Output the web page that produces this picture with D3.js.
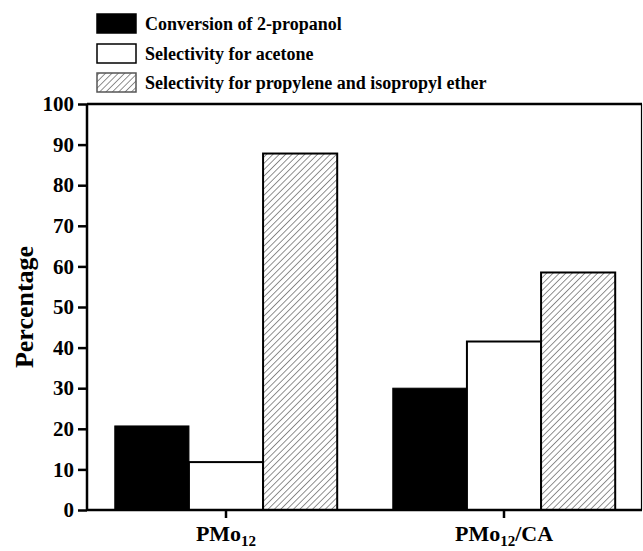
<!DOCTYPE html>
<html><head><meta charset="utf-8">
<script src="https://cdn.jsdelivr.net/npm/d3@7"></script>
<style>body{margin:0;background:#fff}svg{display:block}text{font-family:"Liberation Serif","Times New Roman",serif;font-weight:bold;fill:#000}</style>
</head><body><div id="chart"></div>
<script>
const categories = ["PMo12", "PMo12/CA"];
const seriesNames = ["Conversion of 2-propanol", "Selectivity for acetone", "Selectivity for propylene and isopropyl ether"];
const conversion = [20.7, 30.0];
const acetone = [11.8, 41.5];
const propylene = [87.8, 58.5];
const yTicks = [0,10,20,30,40,50,60,70,80,90,100];
const seriesValues = [conversion, acetone, propylene];

const W = 643, H = 551;
const svg = d3.select("#chart").append("svg").attr("width", W).attr("height", H);
const defs = svg.append("defs");
const pat = defs.append("pattern").attr("id","hatch").attr("patternUnits","userSpaceOnUse")
  .attr("width",4.5).attr("height",4.5).attr("patternTransform","rotate(45)");
pat.append("rect").attr("width",4.5).attr("height",4.5).attr("fill","#fff");
pat.append("line").attr("x1",0).attr("y1",0).attr("x2",0).attr("y2",4.5).attr("stroke","#555").attr("stroke-width",1.3);

const x0 = d3.scaleBand().domain(categories).range([87, 643]).paddingInner(0.2).paddingOuter(0.1);
const x1 = d3.scaleBand().domain(d3.range(3)).range([0, x0.bandwidth()]);
const y = d3.scaleLinear().domain([0, 100]).range([510, 104]);
const fills = ["#000", "#fff", "url(#hatch)"];

// bars
categories.forEach((c, ci) => {
  const g = svg.append("g").attr("transform", `translate(${x0(c)},0)`);
  seriesValues.forEach((vals, si) => {
    g.append("rect").attr("x", x1(si)).attr("width", x1.bandwidth())
      .attr("y", y(vals[ci])).attr("height", y(0) - y(vals[ci]))
      .attr("fill", fills[si]).attr("stroke", "#000").attr("stroke-width", si===0?1:2);
  });
});

// frame (top and right)
svg.append("line").attr("x1",87).attr("x2",642).attr("y1",y(100)).attr("y2",y(100)).attr("stroke","#000").attr("stroke-width",2.5);
svg.append("line").attr("x1",641.5).attr("x2",641.5).attr("y1",y(100)).attr("y2",y(0)).attr("stroke","#000").attr("stroke-width",1.2);

// y axis
const ya = svg.append("g").attr("transform","translate(87,0)")
  .call(d3.axisLeft(y).tickValues(yTicks).tickSize(9).tickPadding(4));
ya.select(".domain").attr("stroke-width",2.5).attr("d",`M0,${y(0)}V${y(100)}`);
ya.selectAll(".tick line").attr("stroke-width",2.5);
ya.selectAll(".tick text").style("font-size","21px").style("font-family","Liberation Serif").style("font-weight","bold").attr("fill","#000");

// x axis
const xa = svg.append("g").attr("transform",`translate(0,${y(0)})`)
  .call(d3.axisBottom(x0).tickSize(8).tickFormat(""));
xa.select(".domain").attr("stroke-width",2.5).attr("d",`M87,0H642`);
xa.selectAll(".tick line").attr("stroke-width",2.5);
categories.forEach(c => {
  const t = svg.append("text").attr("x", x0(c)+x0.bandwidth()/2).attr("y", 541)
    .attr("text-anchor","middle").style("font-size","22px");
  const parts = c.split("12");
  t.append("tspan").text(parts[0]);
  t.append("tspan").text("12").style("font-size","15px").attr("dy",5);
  if (parts[1]) t.append("tspan").text(parts[1]).attr("dy",-5);
});

// y title
svg.append("text").attr("transform",`translate(33,${(y(0)+y(100))/2}) rotate(-90)`)
  .attr("text-anchor","middle").style("font-size","26px").text("Percentage");

// legend
const legY = [14, 44, 73];
seriesNames.forEach((n, i) => {
  svg.append("rect").attr("x",97).attr("y",legY[i]).attr("width",39).attr("height",19)
    .attr("fill",fills[i]).attr("stroke", i===2?"#555":"#000").attr("stroke-width",1.5);
  svg.append("text").attr("x",145).attr("y",legY[i]+16).style("font-size","18px").text(n);
});
</script></body></html>
